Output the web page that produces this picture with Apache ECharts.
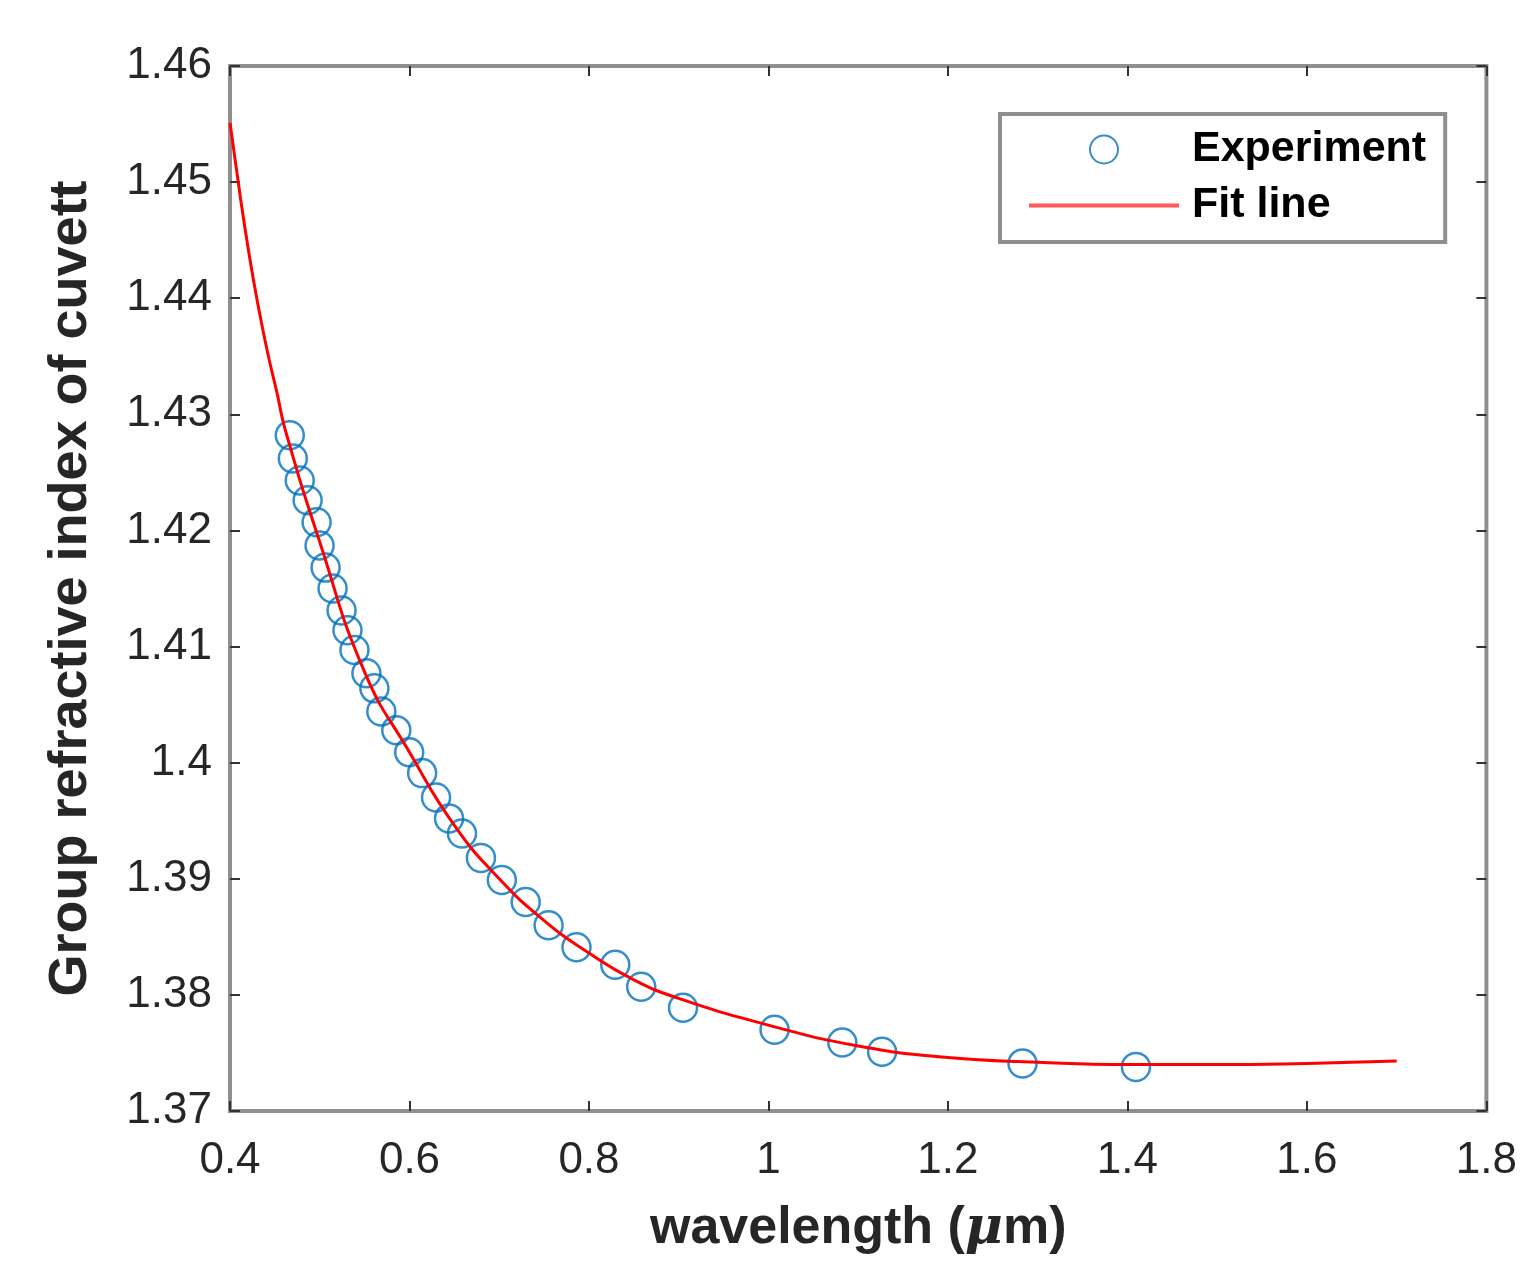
<!DOCTYPE html>
<html lang="en">
<head>
    <meta charset="UTF-8">
    <title>Group refractive index of cuvett</title>
    <script src="https://cdn.jsdelivr.net/npm/echarts@6/dist/echarts.min.js"></script>
    <style>
        html, body { margin: 0; padding: 0; background: #fff; }
        #chart { width: 1520px; height: 1261px; }
    </style>
</head>
<body>
<div id="chart"></div>
<script type="text/javascript">
    // measured points (wavelength in um, group index)
    let expWavelength = [0.4666, 0.470, 0.4777, 0.4865, 0.4965, 0.4998, 0.5065, 0.5143, 0.5243, 0.5309,
        0.5387, 0.552, 0.5609, 0.5686, 0.5853, 0.5997, 0.6141, 0.6296, 0.6441, 0.6585,
        0.6796, 0.7029, 0.7295, 0.755, 0.7861, 0.8293, 0.8582, 0.9048, 1.0068, 1.0823,
        1.1266, 1.2831, 1.4095];
    let expIndex = [1.4282, 1.4262, 1.4243, 1.4226, 1.4207, 1.4187, 1.4168, 1.4150, 1.4131, 1.4114,
        1.4097, 1.4077, 1.4064, 1.4044, 1.4028, 1.4009, 1.3991, 1.3970, 1.3952, 1.3939,
        1.3918, 1.3899, 1.3880, 1.3860, 1.3841, 1.3826, 1.3807, 1.3789, 1.3770, 1.3759,
        1.3751, 1.3741, 1.3738];

    // fit curve
    let fitWavelength = [0.400, 0.4119, 0.4211, 0.4303, 0.4414, 0.4525, 0.4618, 0.50, 0.55, 0.60,
        0.65, 0.70, 0.75, 0.80, 0.85, 0.90, 1.00, 1.10, 1.20, 1.30, 1.40, 1.50, 1.60, 1.70];
    let fitIndex = [1.4551, 1.4485, 1.4439, 1.4398, 1.4355, 1.4318, 1.4286, 1.4190, 1.4078, 1.4009,
        1.3946, 1.3900, 1.3864, 1.3836, 1.3813, 1.3797, 1.3774, 1.3756, 1.3746, 1.3742,
        1.3740, 1.3740, 1.3741, 1.3743];

    let xTicks = [0.4, 1.8, 0.2];   // min, max, step
    let yTicks = [1.37, 1.46, 0.01];

    let expData = expWavelength.map((x, i) => [x, expIndex[i]]);
    let fitData = fitWavelength.map((x, i) => [x, fitIndex[i]]);

    let tickFmt = v => String(parseFloat(v.toFixed(2)));
    let labelFont = 'Liberation Sans, Arial, sans-serif';

    let tickStyle = { show: true, inside: true, length: 10, lineStyle: { color: '#333', width: 2 } };

    let option = {
        backgroundColor: '#fff',
        animation: false,
        grid: {
            left: 230, right: 28, top: 66, bottom: 150,
            show: true, borderColor: '#8f8f8f', borderWidth: 4
        },
        legend: {
            orient: 'vertical',
            left: 1000, top: 114,
            padding: [14, 19, 15, 27],
            itemWidth: 150, itemHeight: 28, itemGap: 13,
            borderColor: '#8f8f8f', borderWidth: 4,
            backgroundColor: '#fff',
            textStyle: { fontFamily: labelFont, fontWeight: 'bold', fontSize: 43, color: '#000', padding: [0, 0, 0, 8] },
            data: ['Experiment', { name: 'Fit line', itemStyle: { opacity: 0 }, lineStyle: { width: 4, color: '#ff5a5a' } }]
        },
        xAxis: [{
            type: 'value', min: xTicks[0], max: xTicks[1], interval: xTicks[2],
            name: 'wavelength ({mu|μ}m)', nameLocation: 'middle', nameGap: 92,
            nameTextStyle: {
                fontFamily: labelFont, fontWeight: 'bold', fontSize: 52, color: '#262626',
                rich: { mu: { fontFamily: 'DejaVu Serif, serif', fontStyle: 'italic', fontSize: 52, color: '#262626' } }
            },
            axisLine: { show: false }, splitLine: { show: false },
            axisTick: tickStyle,
            axisLabel: { formatter: tickFmt, margin: 28, fontFamily: labelFont, fontSize: 44, color: '#262626' }
        }, {
            type: 'value', position: 'top', min: xTicks[0], max: xTicks[1], interval: xTicks[2],
            axisLine: { show: false }, splitLine: { show: false },
            axisTick: tickStyle, axisLabel: { show: false }
        }],
        yAxis: [{
            type: 'value', min: yTicks[0], max: yTicks[1], interval: yTicks[2],
            name: 'Group refractive index of cuvett', nameLocation: 'middle', nameGap: 132,
            nameTextStyle: { fontFamily: labelFont, fontWeight: 'bold', fontSize: 54, color: '#262626' },
            axisLine: { show: false }, splitLine: { show: false },
            axisTick: tickStyle,
            axisLabel: { formatter: tickFmt, margin: 18, fontFamily: labelFont, fontSize: 44, color: '#262626' }
        }, {
            type: 'value', position: 'right', min: yTicks[0], max: yTicks[1], interval: yTicks[2],
            axisLine: { show: false }, splitLine: { show: false },
            axisTick: tickStyle, axisLabel: { show: false }
        }],
        series: [{
            name: 'Experiment',
            type: 'scatter',
            xAxisIndex: 0, yAxisIndex: 0,
            symbol: 'circle', symbolSize: 28,
            itemStyle: { color: 'rgba(255,255,255,0)', borderColor: '#0072BD', borderWidth: 2.5 },
            data: expData,
            z: 2
        }, {
            name: 'Fit line',
            type: 'line',
            xAxisIndex: 0, yAxisIndex: 0,
            smooth: true, symbol: 'none',
            lineStyle: { color: '#ff0000', width: 3 },
            itemStyle: { color: '#ff0000' },
            data: fitData,
            z: 3
        }]
    };

    window.onload = function () {
        let myChart = echarts.init(document.getElementById('chart'));
        myChart.setOption(option);
    };
</script>
</body>
</html>
